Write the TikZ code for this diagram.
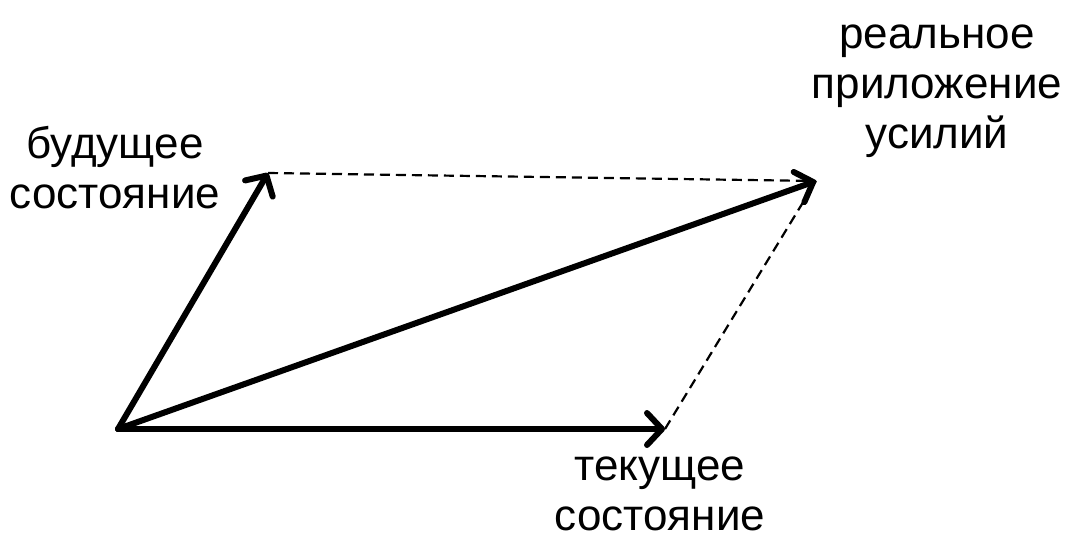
\documentclass[tikz,border=0pt]{standalone}
\usepackage{fontspec}
\setmainfont{Liberation Sans}
\usetikzlibrary{arrows.meta}
\begin{document}
\begin{tikzpicture}[x=1pt,y=-1pt,
  vec/.style={line width=6pt,line cap=round,-{Straight Barb[length=15pt,width=32pt,round]}},
  guide/.style={line width=2.2pt,dash pattern=on 10pt off 6pt},
  lbl/.style={inner sep=0pt,align=center,font=\fontsize{44}{50}\selectfont}]
\useasboundingbox (0,0) rectangle (1082,541);
\coordinate (O) at (118,429);
\coordinate (A) at (268,173);
\coordinate (B) at (665,429);
\coordinate (C) at (816,181);
\draw[guide] (A) -- (C);
\draw[guide] (B) -- (C);
\draw[vec] (O) -- (A);
\draw[vec] (O) -- (B);
\draw[vec] (O) -- (C);
\node[lbl,anchor=base] (fut) at (115,208) {будущее\\состояние};
\node[lbl,anchor=base] (real) at (937,148) {реальное\\приложение\\усилий};
\node[lbl,anchor=base] (cur) at (660,530) {текущее\\состояние};
\end{tikzpicture}
\end{document}
